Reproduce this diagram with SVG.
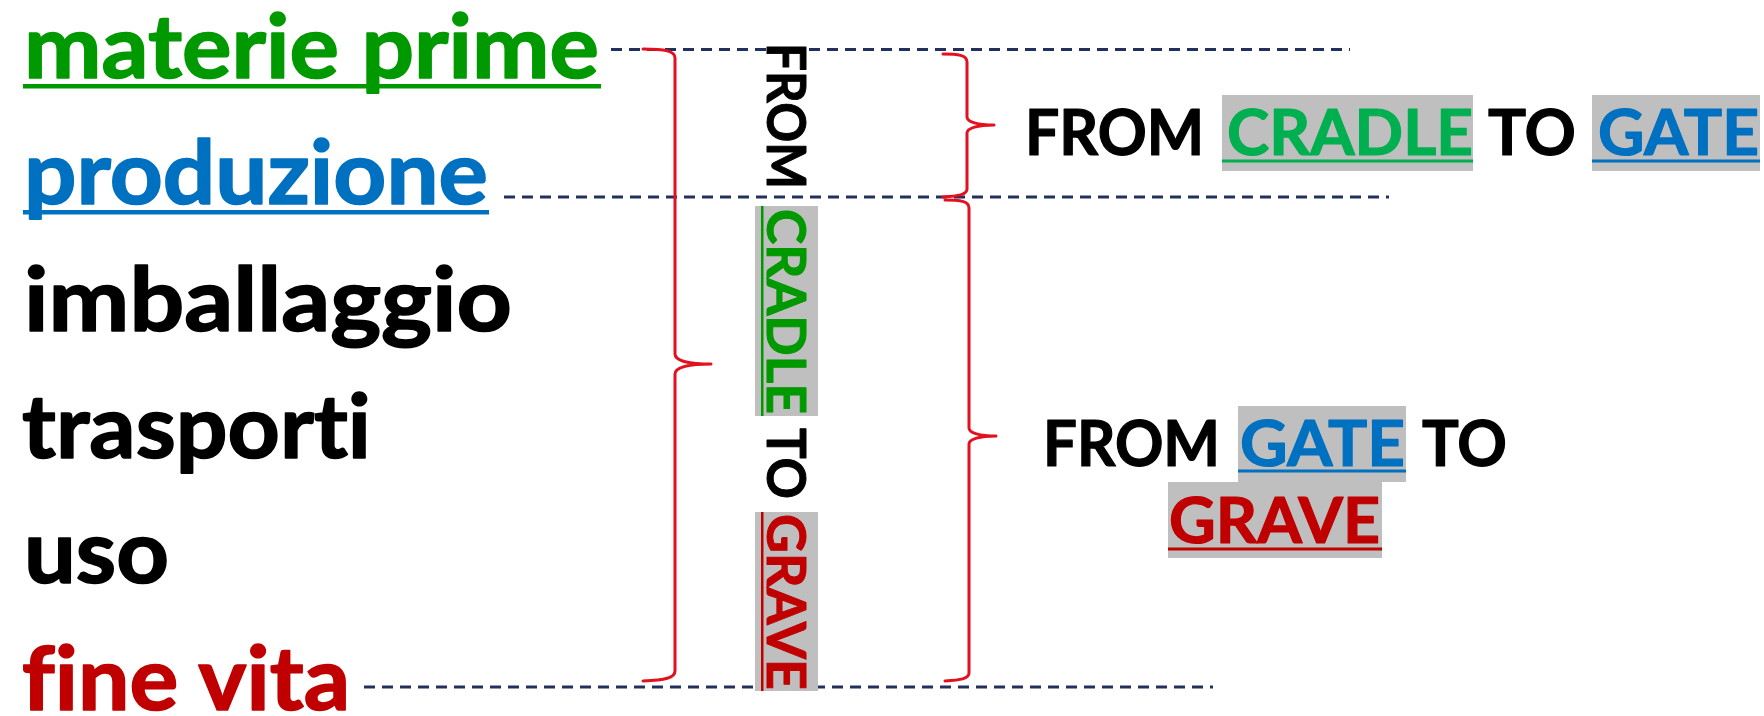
<svg xmlns="http://www.w3.org/2000/svg" width="1764" height="716" viewBox="0 0 1764 716">
<style>
  text { font-family: "Lato", "Liberation Sans", sans-serif; font-weight: bold; font-variant-ligatures: none; font-feature-settings: "liga" 0, "clig" 0; stroke-linejoin: round; }
  .big { font-size: 88px; stroke-width: 1.6px; }
  .mid { font-size: 63px; stroke-width: 1.2px; }
  .vt { font-size: 53px; stroke-width: 1px; }
  .blk { fill: #000000; stroke: #000000; }
  .g1 { fill: #009900; stroke: #009900; }
  .g2 { fill: #00B050; stroke: #00B050; }
  .bl { fill: #0070C0; stroke: #0070C0; }
  .rd { fill: #C00000; stroke: #C00000; }
  rect.g1, rect.g2, rect.bl, rect.rd { stroke: none; }
  .hl { fill: #BFBFBF; }
  .dash { stroke: #22305E; stroke-width: 3; stroke-dasharray: 11 7; fill: none; }
  .brace { stroke: #E3101E; stroke-width: 3; fill: none; stroke-linecap: round; stroke-linejoin: round; }
</style>

<g id="connectors">
  <line class="dash" x1="611" y1="49.5" x2="1350" y2="49.5"/>
  <line class="dash" x1="504" y1="197" x2="1389" y2="197"/>
  <line class="dash" x1="364" y1="687" x2="1213" y2="687"/>
  <path class="brace" d="M643,49 C665,49 675,51 675,58 L675,354 C675,361 690,364 711,364 C690,364 675,367 675,374 L675,671 C675,678 665,680 643,681"/>
  <path class="brace" d="M943,54 C958,54 967,55 967,62 L967,117 C967,122 978,125 994,125 C978,125 967,128 967,133 L967,189 C967,195 958,196 943,197"/>
  <path class="brace" d="M945,200 C960,200 969,201 969,208 L969,428 C969,433 980,436 996,436 C980,436 969,439 969,444 L969,673 C969,679 960,680 945,681"/>
</g>

<g id="node-materie-prime">
  <text class="big g1" x="24" y="78" textLength="575" lengthAdjust="spacingAndGlyphs">materie prime</text>
  <rect class="g1" x="23" y="84" width="578" height="4.5"/>
</g>
<g id="node-produzione">
  <text class="big bl" x="24" y="204" textLength="464" lengthAdjust="spacingAndGlyphs">produzione</text>
  <rect class="bl" x="23" y="210" width="466" height="4.5"/>
</g>
<g id="node-imballaggio">
  <text class="big blk" x="24" y="331" textLength="488" lengthAdjust="spacingAndGlyphs">imballaggio</text>
</g>
<g id="node-trasporti">
  <text class="big blk" x="22" y="458" textLength="349" lengthAdjust="spacingAndGlyphs">trasporti</text>
</g>
<g id="node-uso">
  <text class="big blk" x="24" y="583" textLength="145" lengthAdjust="spacingAndGlyphs">uso</text>
</g>
<g id="node-fine-vita">
  <text class="big rd" x="22" y="710" textLength="328" lengthAdjust="spacingAndGlyphs">fine vita</text>
</g>

<g id="node-vertical-label">
  <rect class="hl" x="755" y="206" width="63" height="210"/>
  <rect class="hl" x="755" y="512" width="63" height="179"/>
  <rect class="g1" x="761" y="206" width="2.5" height="210"/>
  <rect class="rd" x="761" y="512" width="2.5" height="179"/>
  <text class="vt blk" transform="translate(767,43) rotate(90)" x="0" y="0" textLength="146" lengthAdjust="spacingAndGlyphs">FROM</text>
  <text class="vt g1" transform="translate(767,209) rotate(90)" x="0" y="0" textLength="205" lengthAdjust="spacingAndGlyphs">CRADLE</text>
  <text class="vt blk" transform="translate(767,428) rotate(90)" x="0" y="0" textLength="71" lengthAdjust="spacingAndGlyphs">TO</text>
  <text class="vt rd" transform="translate(767,514) rotate(90)" x="0" y="0" textLength="176" lengthAdjust="spacingAndGlyphs">GRAVE</text>
</g>

<g id="node-cradle-to-gate">
  <rect class="hl" x="1222" y="95" width="251" height="76"/>
  <rect class="hl" x="1592" y="95" width="168" height="76"/>
  <text class="mid blk" x="1025" y="155" textLength="179" lengthAdjust="spacingAndGlyphs">FROM</text>
  <text class="mid g2" x="1227" y="155" textLength="246" lengthAdjust="spacingAndGlyphs">CRADLE</text>
  <rect class="g2" x="1222" y="159.5" width="251" height="3"/>
  <text class="mid blk" x="1488" y="155" textLength="88" lengthAdjust="spacingAndGlyphs">TO</text>
  <text class="mid bl" x="1598" y="155" textLength="161" lengthAdjust="spacingAndGlyphs">GATE</text>
  <rect class="bl" x="1592" y="159.5" width="168" height="3"/>
</g>

<g id="node-gate-to-grave">
  <rect class="hl" x="1238" y="406" width="168" height="76"/>
  <rect class="hl" x="1168" y="482" width="214" height="76"/>
  <text class="mid blk" x="1043" y="466" textLength="177" lengthAdjust="spacingAndGlyphs">FROM</text>
  <text class="mid bl" x="1240" y="466" textLength="165" lengthAdjust="spacingAndGlyphs">GATE</text>
  <rect class="bl" x="1238" y="469.5" width="168" height="3"/>
  <text class="mid blk" x="1422" y="466" textLength="85" lengthAdjust="spacingAndGlyphs">TO</text>
  <text class="mid rd" x="1169" y="543" textLength="211" lengthAdjust="spacingAndGlyphs">GRAVE</text>
  <rect class="rd" x="1168" y="547.5" width="214" height="3"/>
</g>
</svg>
